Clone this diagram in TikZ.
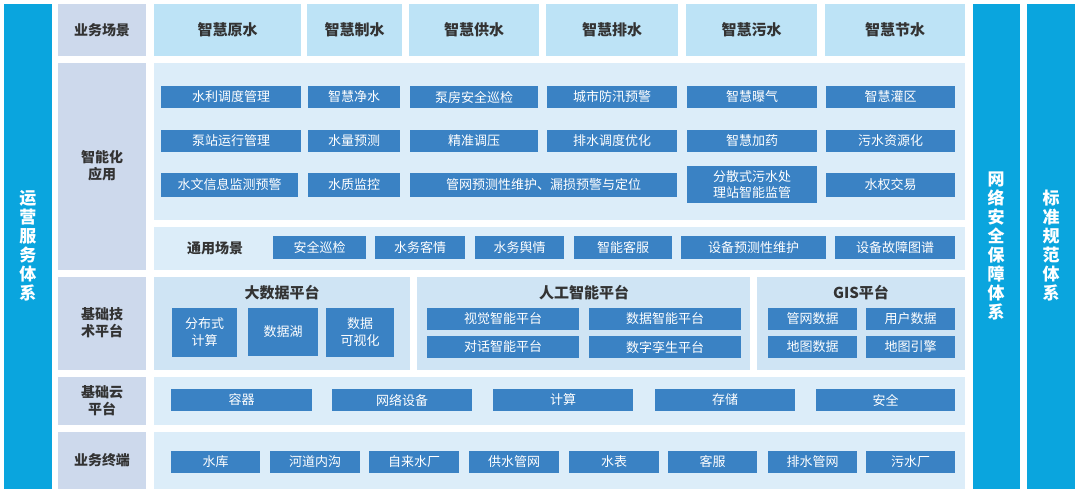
\documentclass[tikz,border=0pt]{standalone}
\usepackage{fontspec}
\setmainfont{Noto Sans CJK SC}
\definecolor{side}{HTML}{0AA5DE}
\definecolor{lab}{HTML}{CDD9EC}
\definecolor{scene}{HTML}{BDE3F6}
\definecolor{area}{HTML}{DCEDF9}
\definecolor{panel}{HTML}{CFE4F4}
\definecolor{bbox}{HTML}{3A82C4}
\definecolor{txt}{HTML}{333333}
\tikzset{
 sidebar/.style={fill=side,draw=none,text=white,font=\fontsize{17}{19}\selectfont\bfseries},
 labcell/.style={fill=lab,draw=none,text=txt,font=\fontsize{14}{17}\selectfont\bfseries},
 bl/.style={fill=bbox,draw=none,text=white,font=\fontsize{13}{15}\selectfont},
}
\newcommand{\rbox}[7]{\fill[#1] (#2,#3) rectangle (#4,#5); \node[#6] at ({(#2+#4)/2},{(#3+#5)/2}) {#7};}
\newcommand{\bb}[6]{\node[bl,minimum width={(#3-#2)*1pt},minimum height={(#5-#4)*1pt},inner sep=0pt,align=center] (#1) at ({(#2+#3)/2},{(#4+#5)/2}) {#6};}
\begin{document}
\begin{tikzpicture}[x=1pt,y=-1pt]
\useasboundingbox[fill=white] (0,0) rectangle (1080,493);
% side bars
\fill[side] (4,4) rectangle (52,489);
\node[sidebar,align=center] (s1) at (28,246) {运\\营\\服\\务\\体\\系};
\fill[side] (973,4) rectangle (1020,489);
\node[sidebar,align=center] (s2) at (996,246) {网\\络\\安\\全\\保\\障\\体\\系};
\fill[side] (1027,4) rectangle (1075,489);
\node[sidebar,align=center] (s3) at (1051,246) {标\\准\\规\\范\\体\\系};
% labels
\fill[lab] (58,4) rectangle (146,56); \node[labcell] (l1) at (102,30) {业务场景};
\fill[lab] (58,63) rectangle (146,270); \node[labcell,align=center] (l2) at (102,166) {智能化\\应用};
\fill[lab] (58,277) rectangle (146,370); \node[labcell,align=center] (l3) at (102,323) {基础技\\术平台};
\fill[lab] (58,377) rectangle (146,425); \node[labcell,align=center] (l4) at (102,401) {基础云\\平台};
\fill[lab] (58,432) rectangle (146,489); \node[labcell] (l5) at (102,460) {业务终端};
% scenes
\foreach \a/\b/\t [count=\i] in {154/301/智慧原水,307/402/智慧制水,409/539/智慧供水,546/678/智慧排水,686/817/智慧污水,825/965/智慧节水}{
 \fill[scene] (\a,4) rectangle (\b,56);
 \node[text=txt,font=\fontsize{15}{17}\selectfont\bfseries] (sc\i) at ({(\a+\b)/2},30) {\t};}
% app area
\fill[area] (154,63) rectangle (965,220);
\fill[area] (154,227) rectangle (965,270);
\bb{a1}{161}{301}{86}{108}{水利调度管理}
\bb{a2}{308}{400}{86}{108}{智慧净水}
\bb{a3}{410}{538}{86}{108}{泵房安全巡检}
\bb{a4}{547}{677}{86}{108}{城市防汛预警}
\bb{a5}{687}{817}{86}{108}{智慧曝气}
\bb{a6}{826}{955}{86}{108}{智慧灌区}
\bb{b1}{161}{301}{130}{152}{泵站运行管理}
\bb{b2}{308}{400}{130}{152}{水量预测}
\bb{b3}{410}{538}{130}{152}{精准调压}
\bb{b4}{547}{677}{130}{152}{排水调度优化}
\bb{b5}{687}{817}{130}{152}{智慧加药}
\bb{b6}{826}{955}{130}{152}{污水资源化}
\bb{c1}{161}{298}{173}{197}{水文信息监测预警}
\bb{c2}{308}{400}{173}{197}{水质监控}
\bb{c3}{410}{677}{173}{197}{管网预测性维护、漏损预警与定位}
\node[bl,minimum width=130pt,minimum height=37pt,inner sep=0pt,align=center,font=\fontsize{13}{16}\selectfont] (c5) at (752,184.5) {分散式污水处\\理站智能监管};
\bb{c6}{826}{955}{173}{197}{水权交易}
\node[text=txt,font=\fontsize{14}{17}\selectfont\bfseries] (ty) at (215,248) {通用场景};
\bb{d1}{273}{366}{236}{259}{安全巡检}
\bb{d2}{375}{465}{236}{259}{水务客情}
\bb{d3}{475}{564}{236}{259}{水务舆情}
\bb{d4}{574}{672}{236}{259}{智能客服}
\bb{d5}{681}{826}{236}{259}{设备预测性维护}
\bb{d6}{835}{955}{236}{259}{设备故障图谱}
% platforms
\fill[panel] (154,277) rectangle (410,370);
\fill[panel] (417,277) rectangle (750,370);
\fill[panel] (757,277) rectangle (965,370);
\node[text=txt,font=\fontsize{15}{17}\selectfont\bfseries] (p1) at (282,293) {大数据平台};
\node[text=txt,font=\fontsize{15}{17}\selectfont\bfseries] (p2) at (584,293) {人工智能平台};
\node[text=txt,font=\fontsize{15}{17}\selectfont\bfseries] (p3) at (861,293) {GIS平台};
\node[bl,minimum width=65pt,minimum height=49pt,inner sep=0pt,align=center,font=\fontsize{13}{17}\selectfont] (e1) at (204.5,332) {分布式\\计算};
\bb{e2}{248}{318}{308}{356}{数据湖}
\node[bl,minimum width=68pt,minimum height=49pt,inner sep=0pt,align=center,font=\fontsize{13}{17}\selectfont] (e3) at (360,332) {数据\\可视化};
\bb{f1}{427}{579}{308}{330}{视觉智能平台}
\bb{f2}{589}{741}{308}{330}{数据智能平台}
\bb{f3}{427}{579}{336}{358}{对话智能平台}
\bb{f4}{589}{741}{336}{358}{数字孪生平台}
\bb{g1}{768}{857}{308}{330}{管网数据}
\bb{g2}{866}{955}{308}{330}{用户数据}
\bb{g3}{768}{857}{336}{358}{地图数据}
\bb{g4}{866}{955}{336}{358}{地图引擎}
% cloud
\fill[area] (154,377) rectangle (965,425);
\bb{h1}{171}{312}{389}{411}{容器}
\bb{h2}{332}{472}{389}{411}{网络设备}
\bb{h3}{493}{633}{389}{411}{计算}
\bb{h4}{655}{795}{389}{411}{存储}
\bb{h5}{816}{955}{389}{411}{安全}
% terminals
\fill[area] (154,432) rectangle (965,489);
\bb{k1}{171}{260}{451}{473}{水库}
\bb{k2}{270}{360}{451}{473}{河道内沟}
\bb{k3}{369}{459}{451}{473}{自来水厂}
\bb{k4}{469}{559}{451}{473}{供水管网}
\bb{k5}{569}{659}{451}{473}{水表}
\bb{k6}{668}{757}{451}{473}{客服}
\bb{k7}{768}{857}{451}{473}{排水管网}
\bb{k8}{866}{955}{451}{473}{污水厂}
\end{tikzpicture}
\end{document}
